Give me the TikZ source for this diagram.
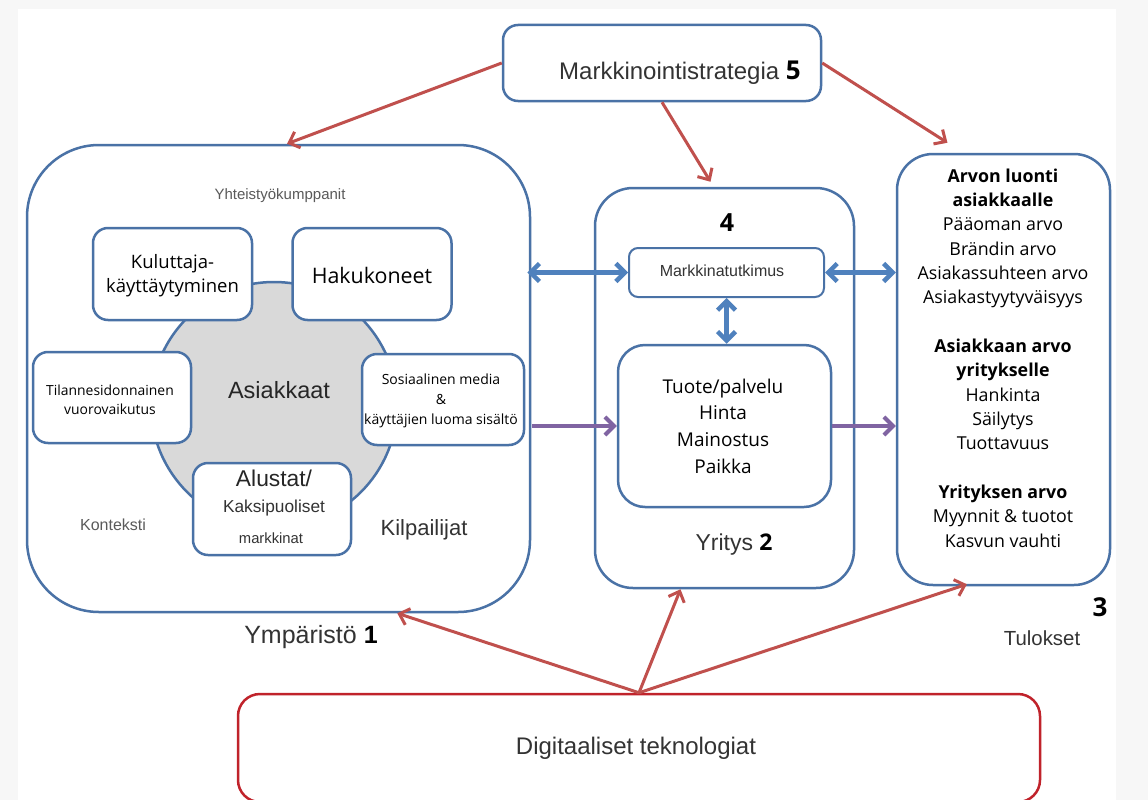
\documentclass[tikz,border=0pt]{standalone}
\usepackage{fontspec}
\setmainfont{Liberation Sans}
\newfontfamily\os{Open Sans}
\usetikzlibrary{arrows.meta,calc}
\definecolor{boxblue}{HTML}{4A72A6}
\definecolor{arrblue}{HTML}{4F81BD}
\definecolor{arrred}{HTML}{C0504D}
\definecolor{arrpur}{HTML}{8064A2}
\definecolor{digired}{HTML}{C0232B}
\definecolor{circgray}{HTML}{D9D9D9}
\definecolor{txtgray}{HTML}{333333}
\definecolor{darkgray}{HTML}{262626}
\definecolor{lightgray}{HTML}{5A5A5A}
\definecolor{margin}{HTML}{F7F7F7}
\begin{document}
\begin{tikzpicture}[x=1pt,y=-1pt,
  box/.style={draw=boxblue, line width=2.5pt, fill=white, inner sep=0pt},
  redarr/.style={draw=arrred, line width=3pt, -{Straight Barb[length=9pt,width=17pt]}},
  bluearr/.style={draw=arrblue, line width=4.5pt, {Straight Barb[length=9pt,width=18pt]}-{Straight Barb[length=9pt,width=18pt]}},
  purarr/.style={draw=arrpur, line width=4pt, -{Straight Barb[length=9pt,width=18pt]}},
  lbl/.style={inner sep=0pt, text=txtgray, align=center},
  oslbl/.style={inner sep=0pt, text=black, align=center},
]
\useasboundingbox (0,0) rectangle (1148,800);
\fill[margin] (0,0) rectangle (1148,800);
\fill[white] (18,9) rectangle (1116,800);

% ---- Markkinointistrategia
\node[box, rounded corners=15pt, minimum width=318pt, minimum height=76pt] (strat) at (662,63) {};
\node[lbl, anchor=base] (strattxt) at (680,79) {\fontsize{24}{29}\selectfont Markkinointistrategia {\os\bfseries\fontsize{26}{30}\selectfont\color{black}5}};

% ---- Ympäristö box
\node[box, rounded corners=72pt, minimum width=503pt, minimum height=467pt] (env) at (278.5,378.5) {};
\node[draw=boxblue, line width=2.5pt, fill=circgray, circle, minimum size=246pt, inner sep=0pt] (circ) at (274,405) {};
\node[lbl, text=lightgray] (yht) at (280,196) {\fontsize{15}{18}\selectfont Yhteistyökumppanit};
\node[box, rounded corners=15pt, minimum width=159pt, minimum height=92pt] (kul) at (172.5,274) {};
\node[oslbl, font={\os\fontsize{18.5}{24}\selectfont}] (kultxt) at (172.5,276) {Kuluttaja-\\käyttäytyminen};
\node[box, rounded corners=15pt, minimum width=159pt, minimum height=92pt] (hak) at (372,274) {};
\node[oslbl, font={\os\fontsize{21.4}{26}\selectfont}] (haktxt) at (372,275) {Hakukoneet};
\node[box, rounded corners=15pt, minimum width=158pt, minimum height=91pt] (til) at (112,397.5) {};
\node[oslbl, font={\os\fontsize{13.9}{18.5}\selectfont}] (tiltxt) at (110,400) {Tilannesidonnainen\\vuorovaikutus};
\node[box, rounded corners=15pt, minimum width=162pt, minimum height=91pt] (sos) at (443,399.5) {};
\node[oslbl, font={\os\fontsize{14}{19.8}\selectfont}] (sostxt) at (441,401) {Sosiaalinen media\\\&\\käyttäjien luoma sisältö};
\node[lbl, text=darkgray] (asi) at (279,390) {\fontsize{23.5}{28}\selectfont Asiakkaat};
\node[box, rounded corners=15pt, minimum width=158pt, minimum height=92pt] (alu) at (272,509) {};
\node[lbl, text=darkgray] (alu1) at (274,478) {\fontsize{22.8}{27}\selectfont Alustat/};
\node[lbl] (alu2) at (274,508) {\fontsize{17.3}{21}\selectfont Kaksipuoliset};
\node[lbl] (alu3) at (271,538) {\fontsize{14.8}{18}\selectfont markkinat};
\node[lbl, text=lightgray] (kon) at (113,525) {\fontsize{16}{19}\selectfont Konteksti};
\node[lbl] (kil) at (424,530) {\fontsize{22}{26}\selectfont Kilpailijat};
\node[lbl] (ymp) at (311,637) {\fontsize{25}{30}\selectfont Ympäristö {\bfseries\color{black}1}};

% ---- Yritys box
\node[box, rounded corners=38pt, minimum width=259pt, minimum height=400pt] (yri) at (724.5,388) {};
\node[oslbl, font={\os\bfseries\fontsize{25}{30}\selectfont}] (four) at (727,223) {4};
\node[box, line width=2pt, rounded corners=9pt, minimum width=195pt, minimum height=49pt] (mkt) at (726.5,272.5) {};
\node[lbl] (mkttxt) at (722,271) {\fontsize{16}{19}\selectfont Markkinatutkimus};
\node[box, rounded corners=27pt, minimum width=213pt, minimum height=162pt] (pfour) at (724.5,426) {};
\node[oslbl, font={\os\fontsize{19}{26.6}\selectfont}] (pfourtxt) at (723,426) {Tuote/palvelu\\Hinta\\Mainostus\\Paikka};
\node[lbl] (yritxt) at (734,545) {\fontsize{23}{28}\selectfont Yritys {\os\bfseries\color{black}2}};

% ---- Tulokset box
\node[box, rounded corners=36pt, minimum width=213pt, minimum height=431pt] (tul) at (1003.5,369.5) {};
\node[oslbl, font={\os\fontsize{17.8}{24.35}\selectfont}] (tultxt) at (1003,358) {%
  \textbf{Arvon luonti}\\\textbf{asiakkaalle}\\Pääoman arvo\\Brändin arvo\\Asiakassuhteen arvo\\Asiakastyytyväisyys\\[24.35pt]
  \textbf{Asiakkaan arvo}\\\textbf{yritykselle}\\Hankinta\\Säilytys\\Tuottavuus\\[24.35pt]
  \textbf{Yrityksen arvo}\\Myynnit \& tuotot\\Kasvun vauhti};
\node[oslbl, font={\os\bfseries\fontsize{26}{30}\selectfont}] (three) at (1100,607) {3};
\node[lbl] (tultit) at (1042,638) {\fontsize{20.4}{25}\selectfont Tulokset};

% ---- Digitaaliset teknologiat
\node[draw=digired, line width=2.5pt, fill=white, rounded corners=22pt, minimum width=802pt, minimum height=108pt, inner sep=0pt] (digi) at (639,748) {};
\node[lbl] (digitxt) at (636,748) {\fontsize{24}{29}\selectfont Digitaaliset teknologiat};

% ---- arrows from strategy
\draw[redarr] (strat.west) -- ($(env.north west)!0.517!(env.north east)$);
\draw[redarr] (strat.south) -- ($(yri.north)+(-14,-5)$);
\draw[redarr] (strat.east) -- ($(tul.north west)!0.24!(tul.north east)+(0,-10)$);

% ---- arrows from digital technologies
\draw[redarr] (digi.north) -- ($(env.south west)!0.735!(env.south east)$);
\draw[redarr] (digi.north) -- ($(yri.south)+(-44,0)$);
\draw[redarr] (digi.north) -- ($(tul.south west)!0.33!(tul.south east)+(0,-2)$);

% ---- blue double arrows
\draw[bluearr] ($(env.east|-mkt.west)+(-4,0)$) -- (mkt.west);
\draw[bluearr] (mkt.east) -- (tul.west|-mkt.east);
\draw[bluearr] (mkt.south) -- (mkt.south|-pfour.north);

% ---- purple arrows
\draw[purarr] ($(env.east|-pfour.west)+(1,0)$) -- (pfour.west);
\draw[purarr] (pfour.east) -- (tul.west|-pfour.east);
\end{tikzpicture}
\end{document}
